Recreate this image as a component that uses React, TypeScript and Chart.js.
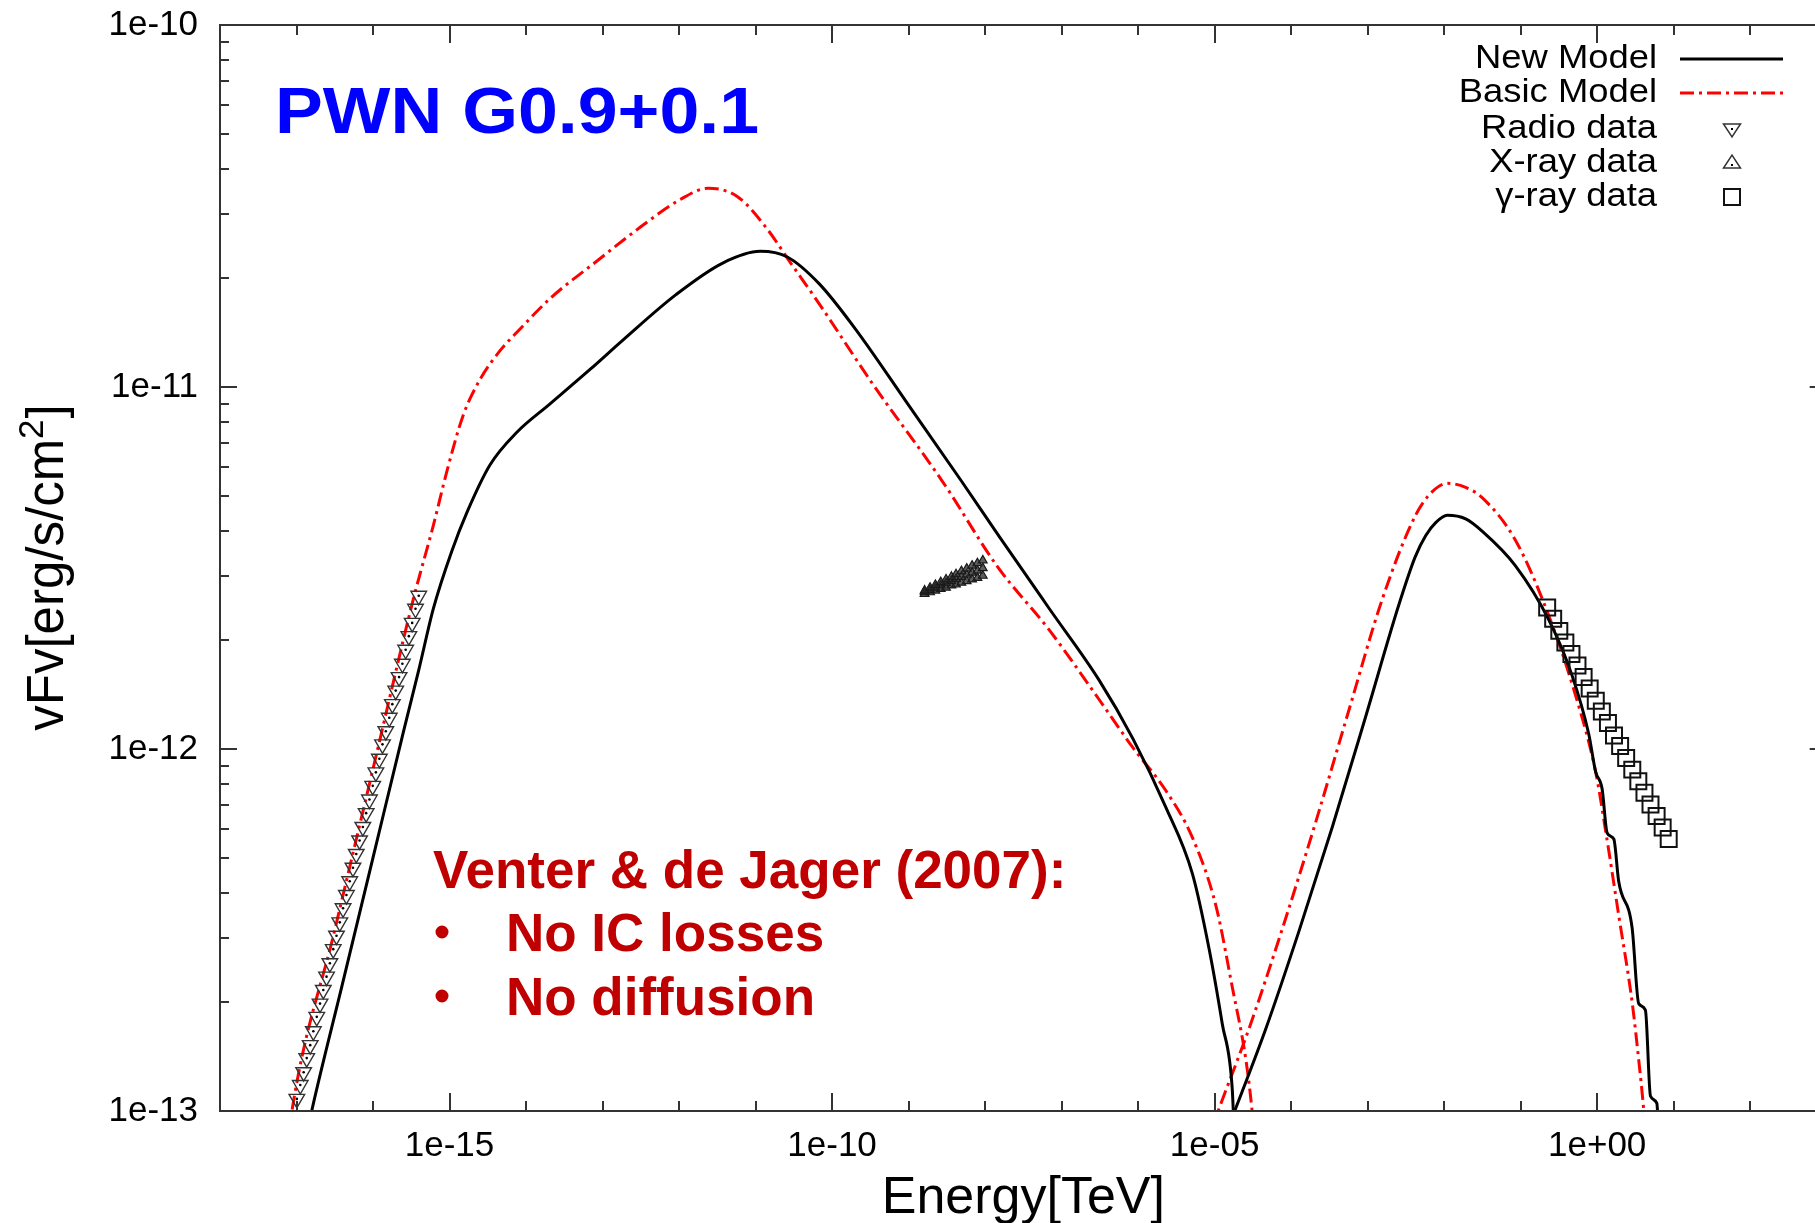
import React, { useEffect, useRef } from "react";
import { Chart, registerables } from "chart.js";

Chart.register(...registerables);

const FONT = '"Liberation Sans", Arial, Helvetica, sans-serif';

// ---------- New Model (black solid) ----------
const newModelSyncE = [1.41e-17, 1.58e-17, 3.98e-17, 1.0e-16, 2.51e-16, 3.98e-16, 6.17e-16, 1.07e-15, 1.70e-15, 3.39e-15, 7.59e-15, 2.04e-14, 6.92e-14, 1.86e-13, 9.12e-13, 3.72e-12, 1.15e-11, 2.57e-11, 6.76e-11, 2.0e-10, 1.0e-9, 4.90e-9, 1.55e-8, 6.92e-8, 3.09e-7, 8.51e-7, 2.29e-6, 5.13e-6, 8.51e-6, 1.26e-5, 1.70e-5, 1.80e-5];
const newModelSyncF = [8.91e-14, 1.0e-13, 2.24e-13, 5.01e-13, 1.12e-12, 1.66e-12, 2.45e-12, 3.52e-12, 4.52e-12, 6.10e-12, 7.50e-12, 8.97e-12, 1.12e-11, 1.35e-11, 1.80e-11, 2.20e-11, 2.37e-11, 2.29e-11, 1.93e-11, 1.45e-11, 8.91e-12, 5.50e-12, 3.85e-12, 2.44e-12, 1.55e-12, 1.07e-12, 6.92e-13, 4.52e-13, 2.79e-13, 1.74e-13, 1.15e-13, 8.71e-14];
const newModelICE = [1.48e-5, 2.0e-5, 4.68e-5, 1.26e-4, 3.47e-4, 9.33e-4, 2.57e-3, 4.17e-3, 5.75e-3, 7.76e-3, 1.10e-2, 1.91e-2, 3.16e-2, 8.51e-2, 0.234, 0.468, 0.776, 0.955, 1.16, 1.35, 1.65, 1.91, 2.86, 3.49, 4.27, 4.97, 6.03, 6.31];
const newModelICF = [8.91e-14, 1.05e-13, 1.69e-13, 3.13e-13, 6.11e-13, 1.22e-12, 2.51e-12, 3.39e-12, 3.89e-12, 4.22e-12, 4.42e-12, 4.32e-12, 3.99e-12, 3.21e-12, 2.27e-12, 1.60e-12, 1.10e-12, 8.65e-13, 7.76e-13, 5.86e-13, 5.64e-13, 4.31e-13, 3.21e-13, 1.98e-13, 1.90e-13, 1.10e-13, 1.05e-13, 8.91e-14];

// ---------- Basic Model (red dash-dot) ----------
const basicModelSyncE = [7.94e-18, 8.71e-18, 3.16e-17, 1.0e-16, 3.39e-16, 6.17e-16, 9.12e-16, 1.51e-15, 2.51e-15, 4.57e-15, 7.94e-15, 2.09e-14, 8.71e-14, 3.16e-13, 1.02e-12, 2.40e-12, 5.75e-12, 1.35e-11, 2.88e-11, 6.76e-11, 3.39e-10, 2.88e-9, 1.45e-8, 6.92e-8, 3.09e-7, 8.51e-7, 2.29e-6, 5.13e-6, 1.05e-5, 1.70e-5, 2.57e-5, 3.09e-5, 3.39e-5];
const basicModelSyncF = [8.51e-14, 1.0e-13, 3.16e-13, 8.81e-13, 2.61e-12, 4.16e-12, 5.79e-12, 8.36e-12, 1.05e-11, 1.26e-11, 1.43e-11, 1.76e-11, 2.24e-11, 2.77e-11, 3.29e-11, 3.54e-11, 3.36e-11, 2.77e-11, 2.20e-11, 1.70e-11, 1.02e-11, 5.42e-12, 3.19e-12, 2.13e-12, 1.37e-12, 1.01e-12, 7.69e-13, 5.69e-13, 3.66e-13, 2.20e-13, 1.38e-13, 1.0e-13, 7.94e-14];
const basicModelICE = [9.12e-6, 1.15e-5, 2.82e-5, 7.76e-5, 2.09e-4, 5.75e-4, 1.55e-3, 4.27e-3, 7.0e-3, 1.10e-2, 1.91e-2, 3.16e-2, 8.51e-2, 0.234, 0.525, 0.955, 1.29, 1.91, 2.88, 3.47, 4.07, 4.27];
const basicModelICF = [8.91e-14, 1.02e-13, 1.69e-13, 3.21e-13, 6.27e-13, 1.29e-12, 2.59e-12, 4.44e-12, 5.14e-12, 5.42e-12, 5.28e-12, 4.94e-12, 3.78e-12, 2.33e-12, 1.40e-12, 8.65e-13, 5.94e-13, 3.48e-13, 1.98e-13, 1.40e-13, 1.0e-13, 8.71e-14];

// ---------- Radio data (down triangles) ----------
const radioE = [1.01e-17, 1.12e-17, 1.24e-17, 1.36e-17, 1.51e-17, 1.66e-17, 1.84e-17, 2.03e-17, 2.24e-17, 2.47e-17, 2.73e-17, 3.02e-17, 3.33e-17, 3.68e-17, 4.06e-17, 4.49e-17, 4.96e-17, 5.47e-17, 6.04e-17, 6.67e-17, 7.36e-17, 8.13e-17, 8.98e-17, 9.91e-17, 1.09e-16, 1.21e-16, 1.33e-16, 1.47e-16, 1.63e-16, 1.79e-16, 1.98e-16, 2.19e-16, 2.42e-16, 2.67e-16, 2.94e-16, 3.25e-16, 3.59e-16, 3.96e-16];
const radioF = [1.08e-13, 1.18e-13, 1.28e-13, 1.40e-13, 1.52e-13, 1.66e-13, 1.82e-13, 1.98e-13, 2.16e-13, 2.35e-13, 2.56e-13, 2.80e-13, 3.05e-13, 3.32e-13, 3.63e-13, 3.95e-13, 4.31e-13, 4.70e-13, 5.13e-13, 5.59e-13, 6.09e-13, 6.65e-13, 7.25e-13, 7.91e-13, 8.62e-13, 9.40e-13, 1.03e-12, 1.12e-12, 1.22e-12, 1.33e-12, 1.45e-12, 1.58e-12, 1.72e-12, 1.88e-12, 2.05e-12, 2.23e-12, 2.44e-12, 2.65e-12];

// ---------- X-ray data (up triangles, bow-tie) ----------
const xrayE = [1.62e-9, 1.91e-9, 2.24e-9, 2.63e-9, 3.09e-9, 3.63e-9, 4.17e-9, 4.90e-9, 5.75e-9, 6.76e-9, 7.94e-9, 9.33e-9];
const xrayFUpper = [2.74e-12, 2.79e-12, 2.84e-12, 2.89e-12, 2.94e-12, 2.99e-12, 3.04e-12, 3.10e-12, 3.15e-12, 3.21e-12, 3.26e-12, 3.32e-12];
const xrayFMid = [2.71e-12, 2.75e-12, 2.79e-12, 2.83e-12, 2.87e-12, 2.91e-12, 2.95e-12, 2.99e-12, 3.03e-12, 3.07e-12, 3.11e-12, 3.16e-12];
const xrayFLower = [2.68e-12, 2.71e-12, 2.74e-12, 2.77e-12, 2.79e-12, 2.83e-12, 2.85e-12, 2.88e-12, 2.91e-12, 2.94e-12, 2.97e-12, 3.01e-12];

// ---------- gamma-ray data (open squares) ----------
const gammaE = [0.222, 0.266, 0.320, 0.384, 0.461, 0.553, 0.665, 0.798, 0.959, 1.151, 1.383, 1.660, 1.995, 2.393, 2.877, 3.451, 4.150, 4.977, 5.984, 7.178, 8.610];
const gammaF = [2.46e-12, 2.29e-12, 2.12e-12, 1.97e-12, 1.83e-12, 1.70e-12, 1.58e-12, 1.47e-12, 1.36e-12, 1.27e-12, 1.18e-12, 1.09e-12, 1.02e-12, 9.44e-13, 8.77e-13, 8.15e-13, 7.57e-13, 7.03e-13, 6.53e-13, 6.07e-13, 5.64e-13];

// ---------- axes ----------
const xMin = 1e-18;
const xMax = 1e3;
const yMin = 1e-13;
const yMax = 1e-10;
const xTickValues = [1e-15, 1e-10, 1e-5, 1];
const xTickLabels = ["1e-15", "1e-10", "1e-05", "1e+00"];
const yTickValues = [1e-13, 1e-12, 1e-11, 1e-10];
const yTickLabels = ["1e-13", "1e-12", "1e-11", "1e-10"];
const xTitle = "Energy[TeV]";
const yTitleMain = "vFv[erg/s/cm";
const yTitleSup = "2";
const yTitleEnd = "]";

const legendLabels = ["New Model", "Basic Model", "Radio data", "X-ray data", "γ-ray data"];
const plotTitle = "PWN G0.9+0.1";
const noteLines = ["Venter & de Jager (2007):", "No IC losses", "No diffusion"];

const RED = "#ff0000";
const DASH = [14, 5, 3, 5];

function pts(xs: number[], ys: number[]) {
  return xs.map((x, i) => ({ x, y: ys[i] }));
}

const framePlugin = {
  id: "frameTicks",
  afterDatasetsDraw(chart: any) {
    const { ctx, chartArea: a, scales } = chart;
    const x = scales.x;
    const y = scales.y;
    ctx.save();
    ctx.strokeStyle = "#333";
    ctx.lineWidth = 2;
    ctx.strokeRect(a.left, a.top, a.right - a.left, a.bottom - a.top);
    ctx.beginPath();
    for (let e = -18; e <= 3; e++) {
      const px = Math.round(x.getPixelForValue(Math.pow(10, e)));
      const len = e % 5 === 0 ? 18 : 10;
      ctx.moveTo(px, a.bottom);
      ctx.lineTo(px, a.bottom - len);
      ctx.moveTo(px, a.top);
      ctx.lineTo(px, a.top + len);
    }
    for (let e = -13; e <= -10; e++) {
      for (let k = 1; k <= 9; k++) {
        if (e === -10 && k > 1) break;
        const py = Math.round(y.getPixelForValue(k * Math.pow(10, e)));
        const len = k === 1 ? 17 : 9;
        ctx.moveTo(a.left, py);
        ctx.lineTo(a.left + len, py);
        ctx.moveTo(a.right, py);
        ctx.lineTo(a.right - len, py);
      }
    }
    ctx.stroke();
    ctx.restore();
  },
};

const textPlugin = {
  id: "texts",
  afterDraw(chart: any) {
    const { ctx, chartArea: a } = chart;
    ctx.save();
    ctx.fillStyle = "#000";
    // x title
    ctx.font = `52px ${FONT}`;
    ctx.textAlign = "center";
    ctx.textBaseline = "alphabetic";
    ctx.fillText(xTitle, (a.left + a.right) / 2, 1213);
    // y title
    ctx.save();
    ctx.translate(45, (a.top + a.bottom) / 2);
    ctx.rotate(-Math.PI / 2);
    ctx.textAlign = "left";
    ctx.font = `51px ${FONT}`;
    const w1 = ctx.measureText(yTitleMain).width;
    const w3 = ctx.measureText(yTitleEnd).width;
    ctx.font = `35px ${FONT}`;
    const w2 = ctx.measureText(yTitleSup).width;
    const x0 = -(w1 + w2 + w3) / 2;
    ctx.font = `51px ${FONT}`;
    ctx.fillText(yTitleMain, x0, 18);
    ctx.fillText(yTitleEnd, x0 + w1 + w2 + 1, 18);
    ctx.font = `35px ${FONT}`;
    ctx.fillText(yTitleSup, x0 + w1, -2);
    ctx.restore();

    // plot title
    ctx.save();
    ctx.translate(275, 133);
    ctx.scale(1.12, 1);
    ctx.font = `bold 64px ${FONT}`;
    ctx.fillStyle = "#0000ff";
    ctx.textAlign = "left";
    ctx.fillText(plotTitle, 0, 0);
    ctx.restore();

    // note
    ctx.fillStyle = "#c00000";
    ctx.font = `bold 53px ${FONT}`;
    ctx.textAlign = "left";
    ctx.fillText(noteLines[0], 433, 888);
    ctx.fillText(noteLines[1], 506, 951);
    ctx.fillText(noteLines[2], 506, 1015);
    ctx.beginPath();
    ctx.arc(442, 932, 6.5, 0, Math.PI * 2);
    ctx.arc(442, 996, 6.5, 0, Math.PI * 2);
    ctx.fill();

    // legend
    const rows = [59, 93, 129, 163, 197];
    ctx.fillStyle = "#000";
    ctx.textAlign = "right";
    ctx.textBaseline = "middle";
    legendLabels.forEach((t, i) => {
      ctx.save();
      ctx.translate(1657, rows[i]);
      ctx.scale(1.07, 1);
      ctx.font = `34px ${FONT}`;
      ctx.fillText(t, 0, 0);
      ctx.restore();
    });
    ctx.lineWidth = 3;
    ctx.strokeStyle = "#000";
    ctx.beginPath();
    ctx.moveTo(1680, rows[0]);
    ctx.lineTo(1783, rows[0]);
    ctx.stroke();
    ctx.strokeStyle = RED;
    ctx.setLineDash(DASH);
    ctx.beginPath();
    ctx.moveTo(1680, rows[1]);
    ctx.lineTo(1783, rows[1]);
    ctx.stroke();
    ctx.setLineDash([]);
    const sx = 1732;
    ctx.strokeStyle = "#333";
    ctx.lineWidth = 1.5;
    // down triangle
    ctx.beginPath();
    ctx.moveTo(sx - 8.5, rows[2] - 5);
    ctx.lineTo(sx + 8.5, rows[2] - 5);
    ctx.lineTo(sx, rows[2] + 8);
    ctx.closePath();
    ctx.stroke();
    ctx.fillStyle = "#000";
    ctx.fillRect(sx - 1, rows[2] - 1, 2, 2);
    // up triangle
    ctx.beginPath();
    ctx.moveTo(sx - 8.5, rows[3] + 5);
    ctx.lineTo(sx + 8.5, rows[3] + 5);
    ctx.lineTo(sx, rows[3] - 8);
    ctx.closePath();
    ctx.stroke();
    ctx.fillRect(sx - 1, rows[3] + 1, 2, 2);
    // square
    ctx.lineWidth = 2;
    ctx.strokeStyle = "#111";
    ctx.strokeRect(sx - 8, rows[4] - 8, 16, 16);
    ctx.restore();
  },
};

export default function App() {
  const ref = useRef<HTMLCanvasElement>(null);
  useEffect(() => {
    const lineBase = {
      showLine: true,
      pointRadius: 0,
      pointHoverRadius: 0,
      borderWidth: 3,
      cubicInterpolationMode: "monotone" as const,
      fill: false,
    };
    const xrayStyle = {
      pointStyle: "triangle",
      pointRadius: 5,
      borderWidth: 1.2,
      borderColor: "#1a1a1a",
      backgroundColor: "rgba(40,40,40,0.75)",
    };
    const chart = new Chart(ref.current as HTMLCanvasElement, {
      type: "scatter",
      data: {
        datasets: [
          {
            label: "γ-ray data",
            data: pts(gammaE, gammaF),
            pointStyle: "rect",
            pointRadius: 11.3,
            borderWidth: 2,
            borderColor: "#111",
            backgroundColor: "rgba(0,0,0,0)",
          },
          { label: "X-ray upper", data: pts(xrayE, xrayFUpper), ...xrayStyle },
          { label: "X-ray data", data: pts(xrayE, xrayFMid), ...xrayStyle },
          { label: "X-ray lower", data: pts(xrayE, xrayFLower), ...xrayStyle },
          {
            label: "Radio dots",
            data: pts(radioE, radioF),
            pointStyle: "circle",
            pointRadius: 1.3,
            borderWidth: 0,
            backgroundColor: "#000",
          },
          {
            label: "Radio data",
            data: pts(radioE, radioF),
            pointStyle: "triangle",
            rotation: 180,
            pointRadius: 9,
            borderWidth: 1.4,
            borderColor: "#333",
            backgroundColor: "rgba(0,0,0,0)",
          },
          { ...lineBase, label: "New Model", data: pts(newModelSyncE, newModelSyncF), borderColor: "#000" },
          { ...lineBase, label: "New Model IC", data: pts(newModelICE, newModelICF), borderColor: "#000" },
          { ...lineBase, label: "Basic Model", data: pts(basicModelSyncE, basicModelSyncF), borderColor: RED, borderDash: DASH },
          { ...lineBase, label: "Basic Model IC", data: pts(basicModelICE, basicModelICF), borderColor: RED, borderDash: DASH },
        ] as any,
      },
      options: {
        animation: false,
        responsive: false,
        devicePixelRatio: 1,
        events: [],
        layout: { padding: { top: 25, right: 12.5, left: 0, bottom: 0 } },
        plugins: { legend: { display: false }, tooltip: { enabled: false } },
        scales: {
          x: {
            type: "logarithmic",
            position: "bottom",
            min: xMin,
            max: xMax,
            grid: { display: false, drawTicks: false },
            border: { display: false },
            afterBuildTicks: (s: any) => {
              s.ticks = xTickValues.map((v) => ({ value: v }));
            },
            afterFit: (s: any) => {
              s.height = 112;
              s.paddingLeft = 0;
              s.paddingRight = 0;
            },
            ticks: {
              autoSkip: false,
              maxRotation: 0,
              minRotation: 0,
              padding: 14,
              color: "#000",
              font: { family: FONT, size: 35 },
              callback: (_v: any, i: number) => xTickLabels[i],
            },
          },
          y: {
            type: "logarithmic",
            position: "left",
            min: yMin,
            max: yMax,
            grid: { display: false, drawTicks: false },
            border: { display: false },
            afterBuildTicks: (s: any) => {
              s.ticks = yTickValues.map((v) => ({ value: v }));
            },
            afterFit: (s: any) => {
              s.width = 220;
              s.paddingTop = 0;
              s.paddingBottom = 0;
            },
            ticks: {
              autoSkip: false,
              padding: 22,
              color: "#000",
              font: { family: FONT, size: 35 },
              callback: (_v: any, i: number) => yTickLabels[i],
            },
          },
        },
      } as any,
      plugins: [framePlugin, textPlugin],
    });
    return () => chart.destroy();
  }, []);
  return (
    <div
      style={{
        position: "fixed",
        left: 0,
        top: 0,
        width: 1815,
        height: 1223,
        overflow: "hidden",
        background: "#fff",
      }}
    >
      <canvas ref={ref} width={1840} height={1223} style={{ display: "block", width: 1840, height: 1223 }} />
    </div>
  );
}
